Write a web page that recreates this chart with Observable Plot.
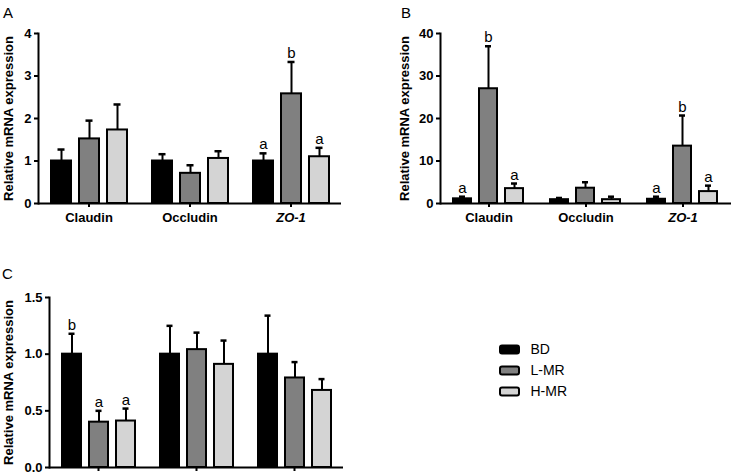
<!DOCTYPE html>
<html>
<head>
<meta charset="utf-8">
<script src="https://cdn.jsdelivr.net/npm/d3@7"></script>
<script src="https://cdn.jsdelivr.net/npm/@observablehq/plot@0.6"></script>
<style>
  html, body { margin: 0; padding: 0; background: #fff; }
  #root { position: relative; width: 731px; height: 476px; overflow: hidden; font-family: "Liberation Sans", Arial, sans-serif; }
  .pos { position: absolute; }
  .plabel { position: absolute; font-size: 15px; line-height: 1; color: #000; }
</style>
</head>
<body>
<div id="root">
  <div class="plabel" style="left:3px;top:5px">A</div>
  <div class="plabel" style="left:401px;top:5px">B</div>
  <div class="plabel" style="left:2px;top:266px">C</div>
</div>
<script>
const groups = ["Claudin", "Occludin", "ZO-1"];
const series = ["BD", "L-MR", "H-MR"];
const colors = ["#000000", "#808080", "#d4d4d4"];

// Panel A
const aMeans = [[1.00, 1.52, 1.73], [1.00, 0.71, 1.06], [1.00, 2.58, 1.10]];
const aUpper = [[1.27, 1.95, 2.33], [1.16, 0.90, 1.23], [1.18, 3.33, 1.31]];
const aLetters = [["", "", ""], ["", "", ""], ["a", "b", "a"]];
const aTicks = [0, 1, 2, 3, 4];

// Panel B
const bMeans = [[1.1, 27.0, 3.5], [0.9, 3.6, 0.9], [1.0, 13.5, 2.8]];
const bUpper = [[1.6, 37.0, 4.7], [1.3, 5.0, 1.6], [1.6, 20.7, 4.2]];
const bLetters = [["a", "b", "a"], ["", "", ""], ["a", "b", "a"]];
const bTicks = [0, 10, 20, 30, 40];

// Panel C
const cMeans = [[1.00, 0.40, 0.41], [1.00, 1.04, 0.91], [1.00, 0.79, 0.68]];
const cUpper = [[1.18, 0.50, 0.52], [1.25, 1.19, 1.12], [1.34, 0.93, 0.78]];
const cLetters = [["b", "a", "a"], ["", "", ""], ["", "", ""]];
const cTicks = [0, 0.5, 1.0, 1.5];

const root = document.getElementById("root");

function rows(means, upper, letters) {
  return groups.flatMap((g, i) => series.map((s, j) => ({
    group: g, series: s, value: means[i][j], upper: upper[i][j], letter: letters[i][j]
  })));
}

function panel(o) {
  const data = rows(o.means, o.upper, o.letters);
  const fxOpt = {fx: "group", x: "series"};
  const svg = Plot.plot({
    width: o.width, height: o.height,
    marginLeft: o.ml, marginRight: o.mr, marginTop: o.mt, marginBottom: o.mb,
    style: {fontFamily: "'Liberation Sans', Arial, sans-serif", fontSize: "13px", fontWeight: "bold", color: "#000", background: "transparent", overflow: "visible"},
    fx: {domain: groups, padding: 0, label: null},
    x: {domain: series, paddingInner: 0.3, paddingOuter: o.po, axis: null},
    y: {domain: o.yDomain, axis: null},
    color: {domain: series, range: colors},
    marks: [
      Plot.ruleX(data, {...fxOpt, y1: "value", y2: "upper", strokeWidth: 2, stroke: "#000"}),
      Plot.tickY(data, {...fxOpt, y: "upper", strokeWidth: 2.5, stroke: "#000", insetLeft: o.cap, insetRight: o.cap}),
      Plot.barY(data, {...fxOpt, y: "value", fill: "series", stroke: "#000", strokeWidth: 2}),
      Plot.ruleY([0], {strokeWidth: 2, stroke: "#000"}),
      Plot.frame({anchor: "left", facetAnchor: "left", strokeWidth: 2, stroke: "#000"}),
      Plot.text(data.filter(d => d.letter), {...fxOpt, y: "upper", text: "letter", lineAnchor: "bottom", dy: -4, fontSize: 15, fontWeight: "normal"}),
      Plot.axisY({ticks: o.ticks, tickFormat: o.tickFormat, tickSize: 4, tickPadding: 3, strokeWidth: 2, fontSize: 13,
        label: "Relative mRNA expression", labelAnchor: "center", labelArrow: "none", labelOffset: o.labelOffset}),
      Plot.axisFx({anchor: "bottom", tickSize: 4, tickPadding: 5, strokeWidth: 2, label: null, fontSize: 13,
        tickFormat: o.showLabels ? (d => d) : (() => "")})
    ]
  });
  svg.classList.add("pos");
  svg.style.left = o.left + "px";
  svg.style.top = o.top + "px";
  // italic gene name for ZO-1
  d3.select(svg).selectAll("text").filter(function () { return this.textContent === "ZO-1"; })
    .style("font-style", "italic");
  root.appendChild(svg);
}

panel({means: aMeans, upper: aUpper, letters: aLetters, yDomain: [0, 4], ticks: aTicks, tickFormat: d3.format("d"),
  left: 0, top: 0, width: 345, height: 240, ml: 37, mr: 3, mt: 33, mb: 37, po: 0.43, cap: 6.5, labelOffset: 35, showLabels: true});
panel({means: bMeans, upper: bUpper, letters: bLetters, yDomain: [0, 40], ticks: bTicks, tickFormat: d3.format("d"),
  left: 370, top: 0, width: 361, height: 240, ml: 70, mr: 0, mt: 33, mb: 37, po: 0.45, cap: 6, labelOffset: 41, showLabels: true});
panel({means: cMeans, upper: cUpper, letters: cLetters, yDomain: [0, 1.5], ticks: cTicks, tickFormat: d3.format(".1f"),
  left: 0, top: 260, width: 346, height: 216, ml: 48, mr: 2, mt: 37, mb: 9, po: 0.41, cap: 6.5, labelOffset: 46, showLabels: false});

// Legend
const legend = Plot.plot({
  width: 100, height: 64, margin: 0,
  style: {fontFamily: "'Liberation Sans', Arial, sans-serif", fontSize: "14px", color: "#000", background: "transparent", overflow: "visible"},
  x: {domain: [0, 100], range: [0, 100], axis: null},
  y: {domain: series, padding: 0, axis: null},
  color: {domain: series, range: colors},
  marks: [
    Plot.barX(series, {y: d => d, x1: () => 2, x2: () => 21, fill: d => d, stroke: "#000", strokeWidth: 2, rx: 2, insetTop: 6.5, insetBottom: 6.5}),
    Plot.text(series, {y: d => d, x: () => 32, text: d => d, textAnchor: "start"})
  ]
});
legend.classList.add("pos");
legend.style.left = "498px";
legend.style.top = "338px";
root.appendChild(legend);
</script>
</body>
</html>
